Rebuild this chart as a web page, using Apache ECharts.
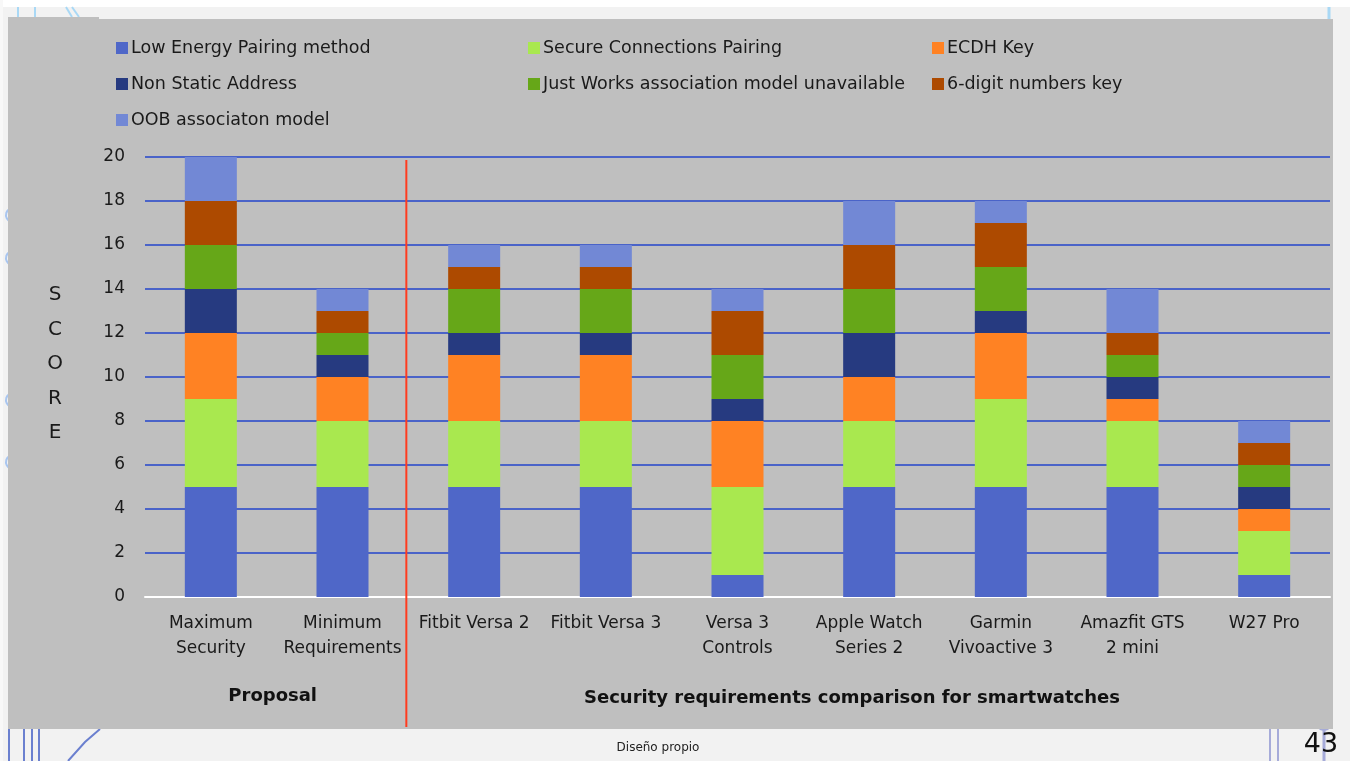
<!DOCTYPE html>
<html><head><meta charset="utf-8">
<script src="https://cdn.jsdelivr.net/npm/echarts@6/dist/echarts.min.js"></script>
<style>html,body{margin:0;padding:0;background:#f2f2f2;}#c{width:1350px;height:761px;}</style>
</head><body><div id="c"></div>
<script>
const categories = ['Maximum\nSecurity','Minimum\nRequirements','Fitbit Versa 2','Fitbit Versa 3','Versa 3\nControls','Apple Watch\nSeries 2','Garmin\nVivoactive 3','Amazfit GTS\n2 mini','W27 Pro'];
const seriesNames = ['Low Energy Pairing method','Secure Connections Pairing','ECDH Key','Non Static Address','Just Works association model unavailable','6-digit numbers key','OOB associaton model'];
const lowEnergy   = [5,5,5,5,1,5,5,5,1];
const secureConn  = [4,3,3,3,4,3,4,3,2];
const ecdhKey     = [3,2,3,3,3,2,3,1,1];
const nonStatic   = [2,1,1,1,1,2,1,1,1];
const justWorks   = [2,1,2,2,2,2,2,1,1];
const sixDigit    = [2,1,1,1,2,2,2,1,1];
const oobModel    = [2,1,1,1,1,2,1,2,1];
const yTicks = [0,2,4,6,8,10,12,14,16,18,20];
const groupLabels = ['Proposal','Security requirements comparison for smartwatches'];
const seriesData = [lowEnergy,secureConn,ecdhKey,nonStatic,justWorks,sixDigit,oobModel];
const colors = ['#4f67c8','#a9e84f','#ff8223','#263a80','#66a718','#ad4a00','#7288d5'];
const FONT = 'DejaVu Sans';
const legendPos = [[116,47],[528,47],[932,47],[116,83],[528,83],[932,83],[116,119]];

const chart = echarts.init(document.getElementById('c'));
const legends = seriesNames.map((n,i)=>({
  data:[n], left:legendPos[i][0], top:legendPos[i][1]-8, padding:0, itemWidth:12, itemHeight:12, icon:'rect',
  itemGap:4, textStyle:{fontFamily:FONT,fontSize:17.5,color:'#1a1a1a',padding:[0,0,0,-2]}
}));
const option = {
  animation:false,
  backgroundColor:'#f2f2f2',
  color:colors,
  legend:legends,
  grid:{left:145,right:20,top:157,bottom:164,containLabel:false},
  xAxis:{type:'category',data:categories,
    axisTick:{show:false},
    axisLine:{show:true,lineStyle:{color:'#ffffff',width:2}},
    axisLabel:{fontFamily:FONT,fontSize:17,color:'#1a1a1a',lineHeight:25,margin:14,interval:0}},
  yAxis:{type:'value',min:0,max:20,interval:2,
    axisLine:{show:false},axisTick:{show:false},
    splitLine:{lineStyle:{color:'#4a63c8',width:2}},
    axisLabel:{fontFamily:FONT,fontSize:17,color:'#1a1a1a',margin:20,
      formatter:v=>yTicks.includes(v)?String(v):''}},
  series:seriesNames.map((n,i)=>({name:n,type:'bar',stack:'s',data:seriesData[i],barWidth:52,itemStyle:{color:colors[i]}}))
};
chart.setOption(option);

const p1 = chart.convertToPixel({xAxisIndex:0},categories[1]);
const p2 = chart.convertToPixel({xAxisIndex:0},categories[2]);
const p0 = chart.convertToPixel({xAxisIndex:0},categories[0]);
const sepX = (p1+p2)/2 - 2;
const deco = [];
// slide decorations
deco.push({type:'rect',shape:{x:0,y:0,width:1350,height:7},style:{fill:'#ffffff'},z:-10});
deco.push({type:'rect',shape:{x:0,y:0,width:3,height:761},style:{fill:'#f8f8f8'},z:-10});
[9,24,32,39].forEach(x=>deco.push({type:'line',shape:{x1:x,y1:729,x2:x,y2:761},style:{stroke:'#6b80cf',lineWidth:2},z:-9}));
deco.push({type:'polyline',shape:{points:[[68,761],[85,742],[100,729]]},style:{stroke:'#6b80cf',lineWidth:2,fill:null},z:-9});
[18,35].forEach(x=>deco.push({type:'line',shape:{x1:x,y1:7,x2:x,y2:17},style:{stroke:'#a9d8f5',lineWidth:2},z:-9}));
[[66,7,72,17],[72,7,79,17]].forEach(s=>deco.push({type:'line',shape:{x1:s[0],y1:s[1],x2:s[2],y2:s[3]},style:{stroke:'#a9d8f5',lineWidth:2},z:-9}));
[[215],[258],[400],[462]].forEach(s=>deco.push({type:'arc',shape:{cx:13,cy:s[0],r:7,startAngle:Math.PI*0.6,endAngle:Math.PI*1.4},style:{stroke:'#a9c6f0',lineWidth:2,fill:null},z:-9}));
[1270,1278].forEach(x=>deco.push({type:'line',shape:{x1:x,y1:729,x2:x,y2:761},style:{stroke:'#a6abd9',lineWidth:2},z:-9}));
deco.push({type:'line',shape:{x1:1324,y1:729,x2:1324,y2:761},style:{stroke:'#a6abd9',lineWidth:3},z:-9});
deco.push({type:'circle',shape:{cx:1324,cy:722,r:8},style:{stroke:'#a6abd9',lineWidth:2,fill:null},z:-9});
deco.push({type:'line',shape:{x1:1329,y1:7,x2:1329,y2:19},style:{stroke:'#a9d8f5',lineWidth:3},z:-9});
// chart panel
deco.push({type:'rect',shape:{x:8,y:19,width:1325,height:710},style:{fill:'#bfbfbf'},z:-5});
deco.push({type:'rect',shape:{x:8,y:17,width:91,height:3},style:{fill:'#bfbfbf'},z:-5});
// separator
deco.push({type:'line',shape:{x1:sepX,y1:160,x2:sepX,y2:727},style:{stroke:'#ff3b1f',lineWidth:2},z:10});
// SCORE
'SCORE'.split('').forEach((ch,i)=>deco.push({type:'text',x:55,y:295+i*34.5,style:{text:ch,font:'20px '+FONT,fill:'#1a1a1a',align:'center',verticalAlign:'middle'},z:10}));
// group labels
deco.push({type:'text',x:(p0+p1)/2-4,y:696,style:{text:groupLabels[0],font:'bold 18px '+FONT,fill:'#111',align:'center',verticalAlign:'middle'},z:10});
deco.push({type:'text',x:852,y:698,style:{text:groupLabels[1],font:'bold 18px '+FONT,fill:'#111',align:'center',verticalAlign:'middle'},z:10});
// footer
deco.push({type:'text',x:658,y:748,style:{text:'Diseño propio',font:'12px '+FONT,fill:'#222',align:'center',verticalAlign:'middle'},z:10});
deco.push({type:'text',x:1321,y:745,style:{text:'43',font:'27px '+FONT,fill:'#111',align:'center',verticalAlign:'middle'},z:10});
chart.setOption({graphic:{elements:deco}});
</script></body></html>
